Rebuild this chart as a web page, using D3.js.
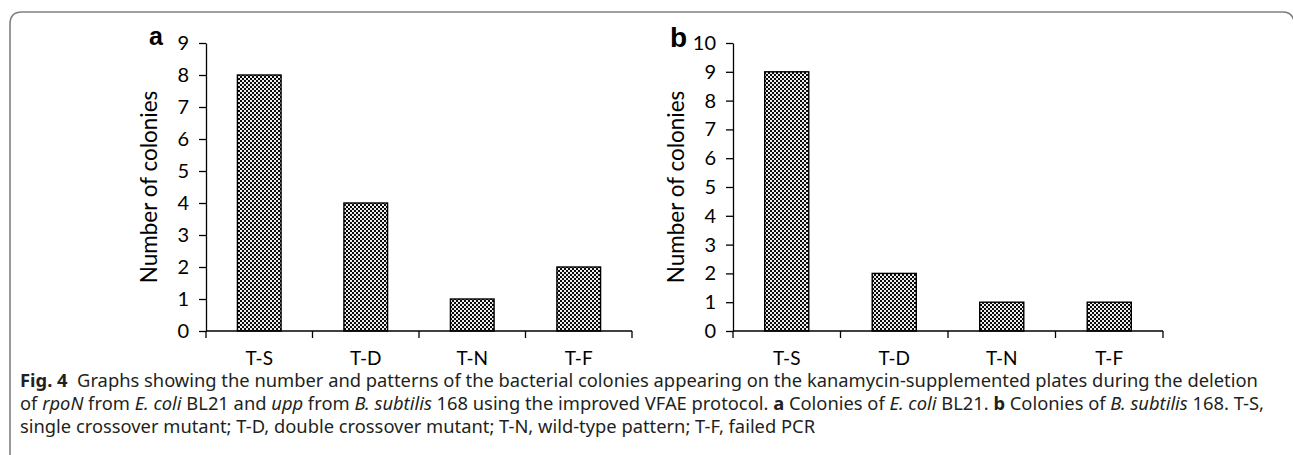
<!DOCTYPE html>
<html><head><meta charset="utf-8">
<script src="https://cdn.jsdelivr.net/npm/d3@7"></script>
<style>
html,body{margin:0;padding:0;background:#fff;}
svg{display:block;}
</style></head>
<body>
<svg id="chart" width="1293" height="455"></svg>
<script>
// ---- data ----
const categories = ["T-S", "T-D", "T-N", "T-F"];
const valuesA = [8, 4, 1, 2];
const valuesB = [9, 2, 1, 1];
const yTicksA = [0, 1, 2, 3, 4, 5, 6, 7, 8, 9];
const yTicksB = [0, 1, 2, 3, 4, 5, 6, 7, 8, 9, 10];
const panelLabels = ["a", "b"];
const yTitle = "Number of colonies";

const svg = d3.select("#chart");
const chartFont = "Lato, 'Open Sans', sans-serif";

// pattern
const defs = svg.append("defs");
const pat = defs.append("pattern").attr("id", "chk")
  .attr("width", 4).attr("height", 4).attr("patternUnits", "userSpaceOnUse");
pat.append("rect").attr("width", 4).attr("height", 4).attr("fill", "#eeeeee");
pat.append("rect").attr("x", 0).attr("y", 0).attr("width", 2).attr("height", 2).attr("fill", "#0a0a0a");
pat.append("rect").attr("x", 2).attr("y", 2).attr("width", 2).attr("height", 2).attr("fill", "#0a0a0a");

// frame
svg.append("path")
  .attr("d", "M10,455 V24 Q10,12 22,12 H1283 Q1292,12 1294,21")
  .attr("fill", "none").attr("stroke", "#808080").attr("stroke-width", 1.6);

function panel(cfg) {
  const g = svg.append("g");
  const x = d3.scaleBand().domain(categories).range([cfg.x0, cfg.x1])
    .paddingInner(0.59).paddingOuter(0.295);
  const y = d3.scaleLinear().domain([0, d3.max(cfg.ticks)]).range([cfg.yb, cfg.yt]);

  // bars
  g.selectAll("rect.bar").data(cfg.values).join("rect")
    .attr("class", "bar")
    .attr("x", (d, i) => x(categories[i]))
    .attr("width", x.bandwidth())
    .attr("y", d => y(d))
    .attr("height", d => y(0) - y(d))
    .attr("fill", "url(#chk)")
    .attr("stroke", "#000").attr("stroke-width", 1.4);

  // y axis
  const ya = g.append("g").attr("transform", `translate(${cfg.x0},0)`)
    .call(d3.axisLeft(y).tickValues(cfg.ticks).tickSize(7).tickSizeOuter(0).tickPadding(10).tickFormat(d3.format("d")));
  ya.select(".domain").attr("stroke", "#000").attr("stroke-width", 1.3);
  ya.selectAll(".tick line").attr("stroke", "#000").attr("stroke-width", 1.3);
  ya.selectAll(".tick text").attr("font-family", chartFont).attr("font-size", 20).attr("fill", "#000");

  // x axis
  const xa = g.append("g").attr("transform", `translate(0,${cfg.yb})`)
    .call(d3.axisBottom(x).tickSize(0).tickSizeOuter(0));
  xa.select(".domain").remove();
  xa.selectAll(".tick text").attr("font-family", chartFont).attr("font-size", 19)
    .attr("fill", "#000").attr("dy", 0).attr("y", 34);
  const step = x.step();
  const bounds = d3.range(categories.length + 1).map(i => cfg.x0 + i * step);
  g.append("line").attr("x1", cfg.x0).attr("x2", cfg.x1).attr("y1", cfg.yb).attr("y2", cfg.yb)
    .attr("stroke", "#000").attr("stroke-width", 1.3);
  g.selectAll("line.xt").data(bounds).join("line").attr("class", "xt")
    .attr("x1", d => d).attr("x2", d => d).attr("y1", cfg.yb).attr("y2", cfg.yb + 7)
    .attr("stroke", "#000").attr("stroke-width", 1.3);

  // y title
  g.append("text")
    .attr("transform", `translate(${cfg.x0 - 49},${(cfg.yb + cfg.yt) / 2}) rotate(-90)`)
    .attr("text-anchor", "middle")
    .attr("font-family", chartFont).attr("font-size", 22.5).attr("fill", "#000")
    .text(yTitle);

  // panel label
  g.append("text").attr("x", cfg.lx).attr("y", cfg.ly)
    .attr("font-family", "'Liberation Sans', Arial, sans-serif").attr("font-weight", "bold")
    .attr("font-size", cfg.ls).attr("fill", "#000").text(cfg.label);
}

panel({ x0: 206, x1: 632, yb: 331, yt: 43, values: valuesA, ticks: yTicksA, label: panelLabels[0], lx: 149, ly: 45, ls: 25 });
panel({ x0: 733, x1: 1163, yb: 331, yt: 43, values: valuesB, ticks: yTicksB, label: panelLabels[1], lx: 670, ly: 47, ls: 28 });

// caption
const capFont = "'Noto Sans', 'Open Sans', sans-serif";
const capLines = [
  [{t: "Fig. 4", b: true}, {t: "  Graphs showing the number and patterns of the bacterial colonies appearing on the kanamycin-supplemented plates during the deletion"}],
  [{t: "of "}, {t: "rpoN", i: true}, {t: " from "}, {t: "E. coli", i: true}, {t: " BL21 and "}, {t: "upp", i: true}, {t: " from "}, {t: "B. subtilis", i: true}, {t: " 168 using the improved VFAE protocol. "}, {t: "a", b: true}, {t: " Colonies of "}, {t: "E. coli", i: true}, {t: " BL21. "}, {t: "b", b: true}, {t: " Colonies of "}, {t: "B. subtilis", i: true}, {t: " 168. T-S,"}],
  [{t: "single crossover mutant; T-D, double crossover mutant; T-N, wild-type pattern; T-F, failed PCR"}]
];
const capX = 20, capY = [387, 410, 433];
const capTexts = capLines.map((segs, li) => {
  const t = svg.append("text").attr("x", capX).attr("y", capY[li])
    .attr("font-family", capFont).attr("font-size", 16).attr("fill", "#231f20")
    .attr("xml:space", "preserve").style("white-space", "pre");
  segs.forEach(s => {
    t.append("tspan").text(s.t)
      .attr("font-weight", s.b ? "bold" : null)
      .attr("font-style", s.i ? "italic" : null);
  });
  return t;
});
// fit font size so line 1 spans the measured width
const target = 1259 - capX;
const w0 = capTexts[0].node().getComputedTextLength();
const fs = 16 * target / w0;
capTexts.forEach(t => t.attr("font-size", fs));
</script>
</body></html>
